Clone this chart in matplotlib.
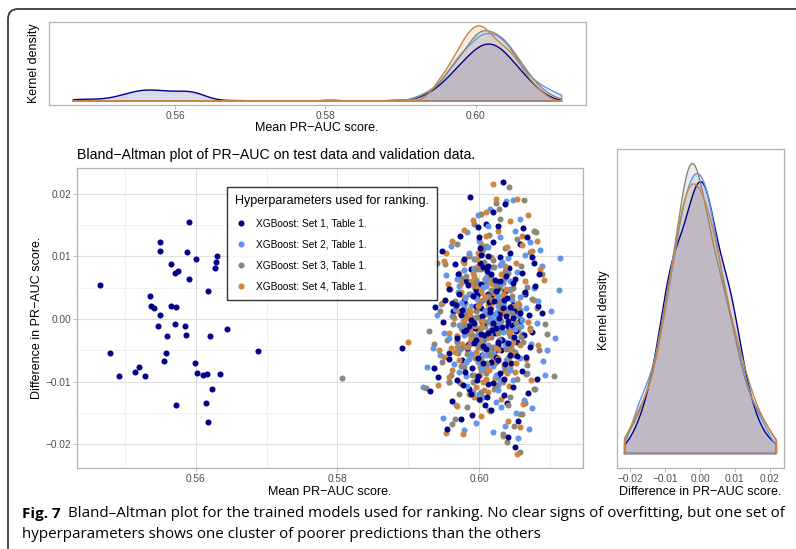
import numpy as np
import matplotlib.pyplot as plt
from matplotlib.lines import Line2D
from matplotlib.patches import FancyBboxPatch
from matplotlib.transforms import IdentityTransform
from matplotlib.ticker import FuncFormatter, MultipleLocator

plt.rcParams['font.family'] = ['Liberation Sans', 'DejaVu Sans']

# XGBoost set 1: the low cluster of poorer models
set1_low_mean = [0.5465, 0.5479, 0.5492, 0.5514, 0.5520, 0.5528, 0.5535, 0.5537, 0.5541, 0.5549,
                 0.5547, 0.5549, 0.5550, 0.5556, 0.5558, 0.5559, 0.5565, 0.5565, 0.5571, 0.5571,
                 0.5575, 0.5572, 0.5572, 0.5585, 0.5586, 0.5588, 0.5590, 0.5591, 0.5600, 0.5599,
                 0.5602, 0.5610, 0.5616, 0.5614, 0.5618, 0.5618, 0.5620, 0.5623, 0.5627, 0.5629,
                 0.5630, 0.5634, 0.5644, 0.5688]
set1_low_diff = [0.0054, -0.0055, -0.0091, -0.0084, -0.0077, -0.0091, 0.0037, 0.0021, 0.0017, 0.0007,
                 -0.0011, 0.0108, 0.0123, -0.0067, -0.0054, -0.0027, 0.0087, 0.0021, -0.0008, 0.0073,
                 0.0076, 0.0019, -0.0137, -0.0012, -0.0026, 0.0106, 0.0063, 0.0155, 0.0096, -0.0070,
                 -0.0086, -0.0090, -0.0088, -0.0134, -0.0164, 0.0045, -0.0028, -0.0111, 0.0082, 0.0091,
                 0.0101, -0.0088, -0.0016, -0.0051]

# XGBoost set 1: main cluster
set1_mean = [0.6033, 0.5987, 0.6036, 0.6009, 0.6026, 0.6062, 0.6068, 0.5998, 0.6020, 0.5973,
             0.6057, 0.5947, 0.6013, 0.6030, 0.6078, 0.5966, 0.5989, 0.6042, 0.6085, 0.5970,
             0.6011, 0.6051, 0.6024, 0.5958, 0.5996, 0.6037, 0.6064, 0.6079, 0.6017, 0.5979,
             0.6083, 0.5937, 0.6048, 0.6002, 0.6088, 0.6070, 0.5963, 0.6029, 0.5987, 0.6015,
             0.6058, 0.5949, 0.6040, 0.5994, 0.6075, 0.6022, 0.5968, 0.6008, 0.6053, 0.5984,
             0.6072, 0.5891, 0.6031, 0.5958, 0.6004, 0.6066, 0.5976, 0.6045, 0.6019, 0.5990,
             0.6060, 0.5942, 0.6027, 0.5969, 0.6081, 0.6012, 0.6047, 0.5931, 0.5985, 0.6035,
             0.6069, 0.6000, 0.5961, 0.6039, 0.5974, 0.5990, 0.6041, 0.6050, 0.5955, 0.6016,
             0.6055, 0.6003, 0.6044, 0.5981, 0.6033, 0.6006, 0.5979, 0.6027, 0.6013, 0.6061,
             0.6038, 0.6001, 0.6063, 0.5952, 0.5936, 0.6024, 0.5997, 0.6049, 0.6074, 0.6019,
             0.6004, 0.6018, 0.5995, 0.6032, 0.6010, 0.5983, 0.6025, 0.6046, 0.5999, 0.6014,
             0.6007, 0.5976, 0.6021, 0.6039, 0.5992, 0.6028, 0.6003, 0.6052, 0.5986, 0.6016,
             0.6034, 0.5969, 0.6011, 0.6043, 0.5997, 0.6023, 0.6058, 0.5980, 0.6006, 0.6030,
             0.5962, 0.6019, 0.6049, 0.5993, 0.6012, 0.6037, 0.5974, 0.6001, 0.6026, 0.6065,
             0.5988, 0.6015, 0.6041, 0.5957, 0.6008, 0.6022, 0.5979, 0.6035, 0.6000, 0.6047,
             0.5996, 0.6021, 0.6005, 0.6038, 0.5984, 0.6013, 0.6029, 0.5991, 0.6044, 0.6009,
             0.5977, 0.6017, 0.6032, 0.6002, 0.6054, 0.5988, 0.6024, 0.6011, 0.5967, 0.6040,
             0.6006, 0.6027, 0.5982, 0.6015, 0.6048, 0.5999, 0.6035, 0.5972, 0.6020, 0.6003]
set1_diff = [0.0219, 0.0195, 0.0183, 0.0152, 0.0149, 0.0145, 0.0131, 0.0146, 0.0123, 0.0132,
             0.0120, 0.0109, 0.0101, 0.0098, 0.0089, 0.0087, 0.0079, 0.0082, 0.0072, 0.0071,
             0.0066, 0.0064, 0.0057, 0.0048, 0.0046, 0.0044, 0.0039, 0.0052, 0.0034, 0.0029,
             0.0021, 0.0019, 0.0022, 0.0018, 0.0010, 0.0006, 0.0012, 0.0009, 0.0003, -0.0001,
             -0.0004, -0.0005, -0.0012, -0.0015, -0.0021, -0.0023, -0.0027, -0.0031, -0.0036, -0.0042,
             -0.0045, -0.0047, -0.0049, -0.0055, -0.0058, -0.0061, -0.0066, -0.0070, -0.0074, -0.0079,
             -0.0083, -0.0093, -0.0089, -0.0097, -0.0095, -0.0103, -0.0108, -0.0115, -0.0112, -0.0121,
             -0.0118, -0.0128, -0.0131, -0.0134, -0.0160, -0.0153, -0.0188, -0.0204, -0.0176, -0.0146,
             -0.0163, 0.0111, 0.0105, 0.0060, 0.0026, -0.0008, -0.0019, -0.0040, 0.0040, 0.0074,
             0.0068, 0.0090, -0.0026, 0.0031, -0.0078, -0.0060, -0.0098, 0.0013, 0.0098, 0.0170,
             0.0004, -0.0017, 0.0021, -0.0034, 0.0012, -0.0046, 0.0048, -0.0009, -0.0062, 0.0027,
             -0.0025, 0.0015, -0.0051, 0.0033, -0.0038, 0.0002, 0.0056, -0.0020, -0.0011, -0.0069,
             0.0017, -0.0030, 0.0076, -0.0057, 0.0038, -0.0014, 0.0009, -0.0085, -0.0043, 0.0061,
             0.0025, -0.0102, -0.0029, -0.0006, 0.0084, -0.0072, 0.0007, 0.0113, -0.0037, 0.0043,
             -0.0119, 0.0016, -0.0003, -0.0064, -0.0138, 0.0062, 0.0095, -0.0095, 0.0130, 0.0001,
             -0.0033, 0.0028, -0.0071, 0.0005, 0.0054, -0.0022, -0.0086, 0.0036, 0.0019, -0.0048,
             -0.0105, 0.0071, -0.0013, 0.0102, -0.0059, -0.0001, 0.0044, -0.0125, 0.0023, -0.0039,
             0.0083, -0.0066, -0.0017, 0.0011, 0.0058, -0.0091, 0.0030, 0.0040, -0.0007, -0.0024]

set2_mean = [0.6038, 0.6047, 0.6114, 0.6112, 0.6102, 0.6107, 0.6093, 0.5927, 0.5921, 0.5940,
             0.5978, 0.6070, 0.6074, 0.6020, 0.6086, 0.5999, 0.6015, 0.6058, 0.5983, 0.6029,
             0.6071, 0.5960, 0.6005, 0.6041, 0.5977, 0.6089, 0.6018, 0.5953, 0.6054, 0.5995,
             0.6033, 0.6077, 0.5970, 0.6010, 0.6046, 0.5946, 0.5988, 0.6066, 0.6025, 0.5962,
             0.6003, 0.6081, 0.6039, 0.5975, 0.6016, 0.5951, 0.6060, 0.5993, 0.6029, 0.5968,
             0.6073, 0.6008, 0.6044, 0.5984, 0.5944, 0.6021, 0.6057, 0.5998, 0.6090, 0.5964,
             0.6035, 0.6012, 0.6068, 0.5981, 0.6048, 0.5957, 0.6026, 0.6079, 0.5991, 0.6006,
             0.6063, 0.5967, 0.6031, 0.5949, 0.6052, 0.5996, 0.6037, 0.5972, 0.6001, 0.6023,
             0.5986, 0.6050, 0.6012, 0.6083, 0.5958, 0.6017, 0.6042, 0.5979, 0.6064, 0.6096,
             0.5935, 0.6009, 0.6044, 0.5990, 0.6027, 0.5972, 0.6059, 0.6000, 0.6055, 0.6008,
             0.6008, 0.6022, 0.5991, 0.6035, 0.6013, 0.5980, 0.6027, 0.6049, 0.6002, 0.6017,
             0.5985, 0.6040, 0.6004, 0.6031, 0.5973, 0.6019, 0.6056, 0.5997, 0.6011, 0.6036,
             0.5966, 0.6024, 0.6045, 0.5989, 0.6006, 0.6029, 0.6061, 0.5978, 0.6014, 0.6038,
             0.5994, 0.6020, 0.6052, 0.5983, 0.6009, 0.6033, 0.5971, 0.6026, 0.6000, 0.6043,
             0.6016, 0.5997, 0.6034, 0.6004, 0.6025, 0.5986, 0.6047, 0.6010, 0.5979, 0.6030,
             0.6019, 0.5993, 0.6041, 0.6001, 0.6058, 0.5982, 0.6013, 0.6037, 0.5969, 0.6024,
             0.6008, 0.6050, 0.5989, 0.6032, 0.6015, 0.5975, 0.6043, 0.6005, 0.6027, 0.5995]
set2_diff = [0.0188, 0.0190, 0.0097, 0.0046, 0.0013, -0.0030, -0.0090, -0.0076, -0.0109, 0.0007,
             -0.0177, -0.0176, -0.0142, -0.0180, 0.0110, 0.0165, 0.0176, 0.0160, 0.0138, 0.0130,
             0.0122, 0.0117, 0.0112, 0.0097, 0.0093, 0.0085, 0.0083, 0.0070, 0.0075, 0.0062,
             0.0058, 0.0049, 0.0043, 0.0037, 0.0030, 0.0024, 0.0020, 0.0017, 0.0011, 0.0004,
             -0.0003, -0.0007, -0.0010, -0.0014, -0.0018, -0.0022, -0.0024, -0.0028, -0.0033, -0.0037,
             -0.0040, -0.0044, -0.0048, -0.0051, -0.0057, -0.0060, -0.0063, -0.0068, -0.0067, -0.0072,
             -0.0077, -0.0082, -0.0086, -0.0091, -0.0097, -0.0101, -0.0106, -0.0111, -0.0116, -0.0124,
             -0.0129, -0.0137, -0.0141, -0.0158, -0.0150, -0.0166, -0.0170, 0.0052, 0.0026, -0.0001,
             0.0105, 0.0140, 0.0148, 0.0029, -0.0031, 0.0066, -0.0022, 0.0078, 0.0102, -0.0049,
             -0.0046, -0.0057, 0.0047, -0.0005, 0.0020, -0.0084, -0.0012, 0.0125, -0.0190, 0.0009,
             -0.0012, 0.0008, -0.0027, 0.0019, -0.0041, 0.0034, -0.0006, -0.0053, 0.0045, -0.0019,
             -0.0064, 0.0012, -0.0031, 0.0057, -0.0048, -0.0075, 0.0023, 0.0003, 0.0069, -0.0036,
             0.0016, -0.0089, -0.0015, 0.0040, -0.0058, 0.0086, -0.0002, -0.0025, 0.0029, -0.0066,
             0.0095, -0.0044, 0.0007, -0.0107, 0.0053, -0.0021, -0.0010, 0.0036, -0.0120, 0.0061,
             0.0002, -0.0035, 0.0026, -0.0079, 0.0044, -0.0010, -0.0030, 0.0063, 0.0018, -0.0097,
             -0.0052, 0.0080, 0.0009, -0.0024, 0.0035, -0.0068, 0.0115, -0.0042, 0.0064, -0.0133,
             0.0013, -0.0016, -0.0056, 0.0091, -0.0004, 0.0025, -0.0082, 0.0051, -0.0113, 0.0033]

set3_mean = [0.6042, 0.6023, 0.6063, 0.6077, 0.6080, 0.6064, 0.6039, 0.6058, 0.5929, 0.5936,
             0.5941, 0.6096, 0.6106, 0.5925, 0.5966, 0.6049, 0.5807, 0.6003, 0.6030, 0.5992,
             0.6054, 0.6014, 0.5968, 0.6037, 0.6071, 0.5985, 0.6020, 0.5952, 0.6059, 0.6002,
             0.6088, 0.5974, 0.6035, 0.6010, 0.6067, 0.5959, 0.5996, 0.6046, 0.6023, 0.5980,
             0.6081, 0.5945, 0.6013, 0.6056, 0.5988, 0.6031, 0.5963, 0.6006, 0.6072, 0.5976,
             0.6040, 0.5998, 0.6017, 0.5954, 0.6062, 0.5986, 0.6027, 0.6004, 0.6085, 0.5970,
             0.6047, 0.5994, 0.6019, 0.5948, 0.6068, 0.5979, 0.6036, 0.6009, 0.5960, 0.6054,
             0.5991, 0.6024, 0.6077, 0.5971, 0.6044, 0.6001, 0.6014, 0.5983, 0.6060, 0.5962,
             0.6033, 0.6010, 0.6040, 0.5995, 0.6025, 0.5983, 0.6050, 0.6018, 0.5967, 0.6093,
             0.6003, 0.6030, 0.6074, 0.5957, 0.6010, 0.6045, 0.5993, 0.6066, 0.6028, 0.6003,
             0.6011, 0.5996, 0.6027, 0.6005, 0.6038, 0.5982, 0.6020, 0.6048, 0.5990, 0.6015,
             0.6032, 0.5975, 0.6008, 0.6043, 0.5998, 0.6024, 0.6057, 0.5985, 0.6012, 0.6036,
             0.5969, 0.6002, 0.6029, 0.6051, 0.5993, 0.6018, 0.6041, 0.5978, 0.6007, 0.6034,
             0.6063, 0.5988, 0.6021, 0.6046, 0.5999, 0.6014, 0.5963, 0.6031, 0.6004, 0.6055,
             0.6000, 0.6026, 0.5987, 0.6016, 0.6042, 0.5995, 0.6009, 0.6035, 0.5974, 0.6021,
             0.6052, 0.5990, 0.6013, 0.6038, 0.6003, 0.5981, 0.6028, 0.6046, 0.5966, 0.6017,
             0.6006, 0.6033, 0.5993, 0.6059, 0.6011, 0.5979, 0.6024, 0.6040, 0.5997, 0.6015]
set3_diff = [0.0211, 0.0185, 0.0190, 0.0141, 0.0138, -0.0134, -0.0196, -0.0212, -0.0020, -0.0040,
             0.0090, -0.0024, -0.0091, -0.0110, -0.0160, -0.0171, -0.0094, 0.0168, 0.0159, 0.0152,
             0.0128, 0.0134, 0.0119, 0.0113, 0.0106, 0.0101, 0.0094, 0.0088, 0.0085, 0.0080,
             0.0072, 0.0066, 0.0063, 0.0055, 0.0051, 0.0047, 0.0041, 0.0036, 0.0029, 0.0025,
             0.0018, 0.0012, 0.0008, 0.0004, 0.0000, -0.0004, -0.0008, -0.0011, -0.0015, -0.0017,
             -0.0020, -0.0024, -0.0029, -0.0033, -0.0036, -0.0039, -0.0043, -0.0047, -0.0050, -0.0054,
             -0.0058, -0.0062, -0.0066, -0.0069, -0.0073, -0.0077, -0.0081, -0.0086, -0.0090, -0.0095,
             -0.0100, -0.0105, -0.0112, -0.0119, -0.0124, -0.0130, -0.0145, -0.0141, -0.0152, -0.0168,
             -0.0183, 0.0117, 0.0073, 0.0014, -0.0010, -0.0056, -0.0006, 0.0045, 0.0020, -0.0008,
             -0.0037, 0.0050, 0.0032, -0.0101, -0.0070, -0.0042, 0.0095, -0.0088, 0.0175, -0.0015,
             -0.0005, 0.0013, -0.0022, 0.0031, -0.0040, 0.0007, -0.0013, 0.0049, -0.0031, -0.0055,
             0.0022, -0.0046, 0.0064, -0.0028, 0.0003, -0.0069, 0.0015, 0.0039, -0.0019, 0.0076,
             -0.0035, -0.0081, 0.0027, -0.0052, 0.0058, -0.0009, -0.0063, 0.0010, 0.0091, -0.0098,
             0.0041, -0.0024, -0.0112, 0.0019, -0.0045, 0.0070, 0.0005, -0.0032, 0.0104, -0.0016,
             0.0024, -0.0018, -0.0040, 0.0046, -0.0061, 0.0059, -0.0027, 0.0017, -0.0075, 0.0083,
             -0.0006, -0.0089, 0.0036, -0.0048, -0.0117, 0.0068, -0.0034, 0.0010, 0.0029, -0.0057,
             0.0112, -0.0100, 0.0001, -0.0029, -0.0072, -0.0012, 0.0053, -0.0137, 0.0079, -0.0044]

set4_mean = [0.6019, 0.6023, 0.6054, 0.6069, 0.6082, 0.5953, 0.5943, 0.5942, 0.5900, 0.6053,
             0.6034, 0.5953, 0.5977, 0.6003, 0.6057, 0.6058, 0.5991, 0.6010, 0.6044, 0.5978,
             0.6027, 0.6061, 0.5962, 0.6002, 0.6039, 0.6075, 0.5985, 0.6016, 0.5950, 0.6052,
             0.5998, 0.6086, 0.5971, 0.6031, 0.6008, 0.6064, 0.5956, 0.5993, 0.6043, 0.6021,
             0.5978, 0.6078, 0.5948, 0.6012, 0.6053, 0.5987, 0.6030, 0.5965, 0.6004, 0.6069,
             0.5980, 0.6041, 0.5997, 0.6019, 0.5957, 0.6059, 0.5989, 0.6028, 0.6006, 0.6083,
             0.5969, 0.6046, 0.5996, 0.6014, 0.5951, 0.6066, 0.5981, 0.6035, 0.6001, 0.5961,
             0.6051, 0.5992, 0.6022, 0.6073, 0.5973, 0.6042, 0.6007, 0.5986, 0.6031, 0.6062,
             0.5968, 0.6015, 0.6040, 0.6009, 0.6036, 0.5999, 0.6024, 0.5976, 0.6048, 0.6016,
             0.5970, 0.6091, 0.6002, 0.6033, 0.6071, 0.5958, 0.6011, 0.6044, 0.5993, 0.6060,
             0.6027, 0.5994, 0.6007, 0.5985, 0.6016, 0.5999, 0.6030, 0.5977, 0.6011, 0.6041,
             0.5990, 0.6003, 0.6024, 0.5968, 0.5996, 0.6019, 0.6049, 0.5982, 0.6009, 0.6035,
             0.5988, 0.6013, 0.6057, 0.5973, 0.6001, 0.6026, 0.5992, 0.6045, 0.6017, 0.5980,
             0.6005, 0.6038, 0.5960, 0.5997, 0.6021, 0.6052, 0.5986, 0.6012, 0.6033, 0.5975,
             0.6000, 0.5998, 0.5983, 0.6012, 0.5991, 0.6026, 0.6004, 0.5975, 0.6019, 0.6039,
             0.5987, 0.6008, 0.5995, 0.6031, 0.5966, 0.6014, 0.6047, 0.5979, 0.6002, 0.6023,
             0.5992, 0.6055, 0.5985, 0.6010, 0.6036, 0.5971, 0.5999, 0.6018, 0.6043, 0.5989,
             0.6006]
set4_diff = [0.0215, 0.0192, 0.0192, 0.0166, 0.0125, 0.0105, -0.0050, -0.0105, -0.0037, -0.0216,
             -0.0187, -0.0182, -0.0183, -0.0155, -0.0172, -0.0152, 0.0158, 0.0171, 0.0157, 0.0142,
             0.0140, 0.0133, 0.0124, 0.0120, 0.0115, 0.0109, 0.0104, 0.0098, 0.0093, 0.0090,
             0.0084, 0.0079, 0.0074, 0.0071, 0.0064, 0.0060, 0.0055, 0.0051, 0.0046, 0.0040,
             0.0035, 0.0031, 0.0026, 0.0022, 0.0016, 0.0011, 0.0006, 0.0002, -0.0002, -0.0005,
             -0.0009, -0.0012, -0.0016, -0.0019, -0.0023, -0.0027, -0.0030, -0.0034, -0.0038, -0.0041,
             -0.0045, -0.0049, -0.0053, -0.0057, -0.0061, -0.0064, -0.0068, -0.0072, -0.0076, -0.0081,
             -0.0085, -0.0089, -0.0094, -0.0098, -0.0102, -0.0107, -0.0113, -0.0120, -0.0127, -0.0135,
             -0.0139, -0.0147, -0.0163, 0.0133, 0.0085, 0.0030, -0.0006, -0.0040, 0.0005, 0.0058,
             0.0013, 0.0062, -0.0062, 0.0027, -0.0018, -0.0092, -0.0030, -0.0079, 0.0068, 0.0118,
             -0.0050, -0.0011, 0.0006, -0.0024, 0.0017, -0.0037, 0.0029, -0.0004, -0.0048, 0.0011,
             -0.0058, 0.0042, -0.0016, -0.0027, 0.0052, -0.0067, 0.0020, 0.0001, -0.0079, 0.0035,
             -0.0033, 0.0066, -0.0041, 0.0009, -0.0090, -0.0020, 0.0081, -0.0055, 0.0024, -0.0008,
             -0.0101, 0.0047, -0.0046, 0.0096, -0.0015, -0.0071, 0.0014, -0.0117, 0.0039, 0.0057,
             -0.0030, 0.0020, -0.0044, -0.0026, 0.0073, -0.0063, -0.0012, 0.0043, 0.0055, -0.0087,
             -0.0020, 0.0035, -0.0108, 0.0016, -0.0052, -0.0082, -0.0036, 0.0089, 0.0050, -0.0046,
             -0.0124, 0.0026, 0.0004, -0.0095, 0.0010, -0.0065, 0.0105, 0.0031, -0.0021, 0.0061,
             -0.0003]

set_labels = ['XGBoost: Set 1, Table 1.', 'XGBoost: Set 2, Table 1.',
              'XGBoost: Set 3, Table 1.', 'XGBoost: Set 4, Table 1.']
set_colors = ['#00008B', '#6495ED', '#8B8878', '#CD853F']

means = [np.array(set1_low_mean + set1_mean), np.array(set2_mean),
         np.array(set3_mean), np.array(set4_mean)]
diffs = [np.array(set1_low_diff + set1_diff), np.array(set2_diff),
         np.array(set3_diff), np.array(set4_diff)]

W, H = 796, 549


def box(left, top, right, bottom):
    return [left / W, 1 - bottom / H, (right - left) / W, (bottom - top) / H]


def at(x, y):
    return x / W, 1 - y / H


def kde(values, grid):
    # gaussian kernel, bandwidth as R's bw.nrd0
    v = np.asarray(values)
    sd = v.std(ddof=1)
    iqr = np.subtract(*np.percentile(v, [75, 25]))
    bw = 0.9 * min(sd, iqr / 1.34) * len(v) ** -0.2
    z = (grid[:, None] - v[None, :]) / bw
    return np.exp(-0.5 * z ** 2).sum(axis=1) / (len(v) * bw * np.sqrt(2 * np.pi))


def expand(lo, hi, frac=0.05):
    pad = (hi - lo) * frac
    return lo - pad, hi + pad


def style(ax):
    for s in ax.spines.values():
        s.set_color('#B3B3B3')
        s.set_linewidth(0.9)
    ax.tick_params(which='both', colors='#B3B3B3', labelcolor='#4D4D4D',
                   labelsize=7.3, length=3, width=0.6, pad=1.5)


def density_panel(ax, groups, lo, hi):
    grid = np.linspace(lo, hi, 512)
    top = 0
    for vals, c in zip(groups, set_colors):
        d = kde(vals, grid)
        top = max(top, d.max())
        ax.fill(np.r_[grid[0], grid, grid[-1]], np.r_[0, d, 0],
                facecolor=c, alpha=0.15, edgecolor='none')
        ax.plot(np.r_[grid[0], grid, grid[-1], grid[0]], np.r_[0, d, 0, 0], color=c, lw=1.0)
    ax.set_xlim(*expand(lo, hi))
    ax.set_ylim(-0.05 * top, 1.05 * top)
    ax.set_yticks([])
    style(ax)


minus = FuncFormatter(lambda v, p: ('%.2f' % v).replace('-', '\u2212'))
label_kw = dict(fontsize=9, color='black', ha='center', va='center')

fig = plt.figure(figsize=(W / 100, H / 100), dpi=100)

all_mean = np.concatenate(means)
all_diff = np.concatenate(diffs)
x_lo, x_hi = all_mean.min(), all_mean.max()
y_lo, y_hi = all_diff.min(), all_diff.max()

# marginal density of the mean score
ax_top = fig.add_axes(box(49, 22, 586, 105))
density_panel(ax_top, means, x_lo, x_hi)
ax_top.set_xticks([0.56, 0.58, 0.60])
ax_top.xaxis.set_major_formatter(minus)
fig.text(*at(34, 63), 'Kernel density', rotation=90, **label_kw)
fig.text(*at(317, 128), 'Mean PR\u2212AUC score.', **label_kw)

# Bland-Altman scatter
ax = fig.add_axes(box(77, 168, 583, 468))
n_max = max(len(m) for m in means)
for start in range(0, n_max, 10):
    for m, d, c in zip(means, diffs, set_colors):
        ax.scatter(m[start:start + 10], d[start:start + 10], s=19, color=c,
                   linewidths=0, zorder=3)
ax.set_xlim(*expand(x_lo, x_hi))
ax.set_ylim(*expand(y_lo, y_hi))
ax.set_xticks([0.56, 0.58, 0.60])
ax.set_yticks([-0.02, -0.01, 0.0, 0.01, 0.02])
ax.xaxis.set_minor_locator(MultipleLocator(0.01))
ax.yaxis.set_minor_locator(MultipleLocator(0.005))
ax.xaxis.set_major_formatter(minus)
ax.yaxis.set_major_formatter(minus)
ax.grid(which='major', color='#DEDEDE', lw=0.8)
ax.grid(which='minor', color='#EBEBEB', lw=0.5)
ax.set_axisbelow(True)
style(ax)
ax.tick_params(which='minor', length=0)
fig.text(77 / W, 1 - 155 / H, 'Bland\u2212Altman plot of PR\u2212AUC on test data and validation data.',
         fontsize=10.2, ha='left', va='center')
fig.text(*at(37, 318), 'Difference in PR\u2212AUC score.', rotation=90, **label_kw)
fig.text(*at(330, 492), 'Mean PR\u2212AUC score.', **label_kw)

handles = [Line2D([], [], ls='none', marker='o', markersize=4.4, markeredgewidth=0,
                  color=c) for c in set_colors]
leg = ax.legend(handles, set_labels, title='Hyperparameters used for ranking.',
                loc='upper left', bbox_to_anchor=((227 - 77) / 506, 1 - (187 - 168) / 300),
                fontsize=7.3, title_fontsize=9, frameon=True, fancybox=False,
                borderpad=0.8, labelspacing=1.1, handlelength=1.2, handletextpad=0.9,
                borderaxespad=0, alignment='left')
leg.get_frame().set_edgecolor('black')
leg.get_frame().set_linewidth(1.0)
leg.set_zorder(5)

# marginal density of the difference
ax_r = fig.add_axes(box(617, 149, 784, 468))
density_panel(ax_r, diffs, y_lo, y_hi)
ax_r.set_xticks([-0.02, -0.01, 0.0, 0.01, 0.02])
ax_r.xaxis.set_major_formatter(minus)
fig.text(*at(604, 310), 'Kernel density', rotation=90, **label_kw)
fig.text(*at(700, 492), 'Difference in PR\u2212AUC score.', **label_kw)

# page frame and caption
fig.add_artist(FancyBboxPatch((8, -60), 900, H - 9 + 60, boxstyle='round,pad=0,rounding_size=10',
                              transform=IdentityTransform(), fill=False,
                              edgecolor='#3A3A3A', lw=1.3))
cap_font = ['Open Sans', 'DejaVu Sans']
cap_size = 10.0
fig_lbl = fig.text(*at(22, 521), 'Fig. 7', fontsize=cap_size, fontweight='bold', family=cap_font,
                   ha='left', va='bottom')
cap1 = fig.text(0, 0, 'Bland\u2013Altman plot for the trained models used for ranking. '
                'No clear signs of overfitting, but one set of',
                fontsize=cap_size, family=cap_font, ha='left', va='bottom')
cap2 = fig.text(*at(22, 542), 'hyperparameters shows one cluster of poorer predictions than the others',
                fontsize=cap_size, family=cap_font, ha='left', va='bottom')

# first caption line runs on after the bold label and spans the page width
for _ in range(4):
    r = fig.canvas.get_renderer()
    lbl_right = fig_lbl.get_window_extent(r).x1
    cap1.set_position(((lbl_right + 7) / W, 1 - 521 / H))
    right = cap1.get_window_extent(r).x1
    cap_size *= (788 - 22) / (right - 22)
    for t in (fig_lbl, cap1, cap2):
        t.set_fontsize(cap_size)
r = fig.canvas.get_renderer()
cap1.set_position(((fig_lbl.get_window_extent(r).x1 + 7) / W, 1 - 521 / H))

fig.savefig('out.png', dpi=100)
